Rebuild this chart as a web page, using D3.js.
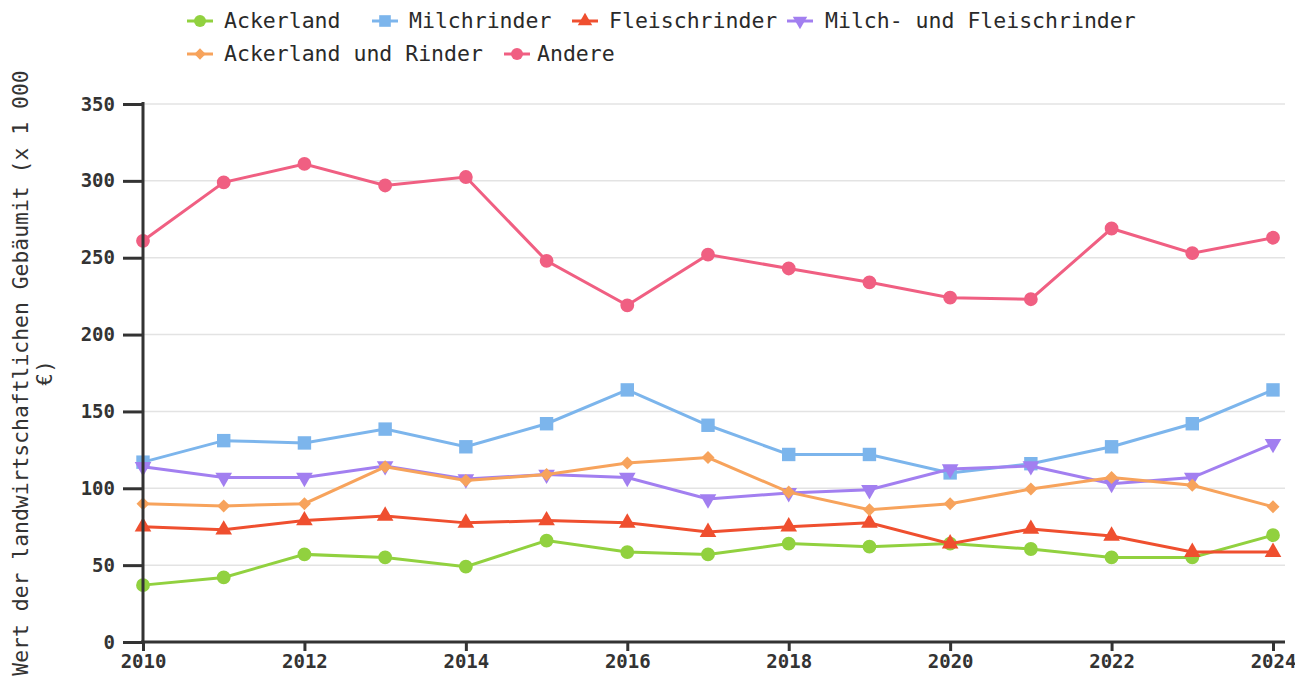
<!DOCTYPE html>
<html>
<head>
<meta charset="utf-8">
<script src="https://cdn.jsdelivr.net/npm/d3@7"></script>
<style>
    body { margin: 0; background: #fff; }
    svg { display: block; font-family: "DejaVu Sans Mono", monospace; }
</style>
</head>
<body>
<svg id="chart" width="1295" height="684"></svg>
<script>
var years = [2010, 2011, 2012, 2013, 2014, 2015, 2016, 2017, 2018, 2019, 2020, 2021, 2022, 2023, 2024];
var xTicks = [2010, 2012, 2014, 2016, 2018, 2020, 2022, 2024];
var yTicks = [0, 50, 100, 150, 200, 250, 300, 350];

var ackerland = [37, 42, 57, 55, 49, 66, 58.5, 57, 64, 62, 64, 60.5, 55, 55, 69.5];
var milchrinder = [117, 131, 129.5, 138.5, 127, 142, 164, 141, 122, 122, 110, 116, 127, 142, 164];
var fleischrinder = [75, 73, 79, 82, 77.5, 79, 77.5, 71.5, 75, 77.5, 64, 73.5, 69, 58.5, 58.5];
var milchFleisch = [114, 107, 107, 114.5, 106, 109, 107, 93, 97, 99, 112.5, 114.5, 103, 107, 129];
var ackerRinder = [90, 88.5, 90, 114, 105, 109, 116.5, 120, 97.5, 86, 90, 99.5, 107, 102, 88];
var andere = [261, 299, 311, 297, 302.5, 248, 219, 252, 243, 234, 224, 223, 269, 253, 263];

var seriesNames = ['Ackerland', 'Milchrinder', 'Fleischrinder', 'Milch- und Fleischrinder', 'Ackerland und Rinder', 'Andere'];
var seriesColors = ['#91d13f', '#7cb5ec', '#ef4f2f', '#a27ff0', '#f7a35c', '#f05f82'];
var seriesShapes = ['circle', 'square', 'up', 'down', 'diamond', 'circle'];
var seriesValues = [ackerland, milchrinder, fleischrinder, milchFleisch, ackerRinder, andere];

var margin = {left: 143, top: 104, right: 10};
var width = 1142, height = 538;

var svg = d3.select('#chart');
var g = svg.append('g').attr('transform', 'translate(' + margin.left + ',' + margin.top + ')');

var x = d3.scaleLinear().domain([2010, 2024]).range([0, 1130]);
var y = d3.scaleLinear().domain([0, 350]).range([height, 0]);

// gridlines
g.append('g').selectAll('line')
    .data(yTicks.slice(1))
    .enter().append('line')
    .attr('x1', 0).attr('x2', width)
    .attr('y1', d => y(d)).attr('y2', d => y(d))
    .attr('stroke', '#e3e3e3').attr('stroke-width', 1.5);

// marker shape -> [path, rotation]
function marker(shape, k) {
    k = k || 1;
    switch (shape) {
    case 'circle': return [d3.symbol().type(d3.symbolCircle).size(150 * k)(), 0];
    case 'square': return [d3.symbol().type(d3.symbolSquare).size(180 * k)(), 0];
    case 'up': return [d3.symbol().type(d3.symbolTriangle).size(120 * k)(), 0];
    case 'down': return [d3.symbol().type(d3.symbolTriangle).size(120 * k)(), 180];
    case 'diamond': return [d3.symbol().type(d3.symbolSquare).size(85 * k)(), 45];
    }
}

var line = d3.line().x((d, i) => x(years[i])).y(d => y(d));

seriesValues.forEach(function (vals, s) {
    var sg = g.append('g');
    var m = marker(seriesShapes[s]);
    sg.append('path')
        .datum(vals)
        .attr('d', line)
        .attr('fill', 'none')
        .attr('stroke', seriesColors[s])
        .attr('stroke-width', 3);
    sg.selectAll('path.pt')
        .data(vals)
        .enter().append('path')
        .attr('class', 'pt')
        .attr('d', m[0])
        .attr('transform', (d, i) => 'translate(' + x(years[i]) + ',' + y(d) + ') rotate(' + m[1] + ')')
        .attr('fill', seriesColors[s]);
});

// axes
var yAxis = g.append('g')
    .call(d3.axisLeft(y).tickValues(yTicks).tickSize(20).tickPadding(8));
var xAxis = g.append('g')
    .attr('transform', 'translate(0,' + height + ')')
    .call(d3.axisBottom(x).tickValues(xTicks).tickFormat(d3.format('d')).tickSize(9).tickPadding(4));

[yAxis, xAxis].forEach(function (a) {
    a.select('.domain').remove();
    a.selectAll('.tick line').attr('stroke', '#333').attr('stroke-width', 3);
    a.selectAll('.tick text')
        .attr('fill', '#333')
        .style('font-size', '19px')
        .style('font-weight', 'bold')
        .style('font-family', '"DejaVu Sans Mono", monospace');
});

g.append('line').attr('x1', 0).attr('x2', 0).attr('y1', -2).attr('y2', height + 2)
    .attr('stroke', '#333').attr('stroke-width', 3);
g.append('line').attr('x1', -2).attr('x2', width).attr('y1', height).attr('y2', height)
    .attr('stroke', '#333').attr('stroke-width', 3);

// y axis title
var title = svg.append('text')
    .attr('transform', 'translate(28,' + (margin.top + height / 2) + ') rotate(-90)')
    .attr('text-anchor', 'middle')
    .attr('fill', '#333')
    .style('font-size', '21.4px');
title.append('tspan').attr('x', 0).attr('dy', 0).text('Wert der landwirtschaftlichen Gebäumit (x 1 000');
title.append('tspan').attr('x', 0).attr('dy', 24).text('€)');

// legend
var legendPos = [[200, 21], [385, 21], [585, 21], [800, 21], [200, 54], [517, 54]];
var legendText = [224, 409, 609, 825, 224, 537];
var legend = svg.append('g');
seriesNames.forEach(function (name, s) {
    var m = marker(seriesShapes[s], 0.75);
    var lg = legend.append('g').attr('transform', 'translate(' + legendPos[s][0] + ',' + legendPos[s][1] + ')');
    lg.append('line').attr('x1', -13).attr('x2', 13)
        .attr('stroke', seriesColors[s]).attr('stroke-width', 3);
    lg.append('path')
        .attr('d', m[0])
        .attr('transform', 'rotate(' + m[1] + ')')
        .attr('fill', seriesColors[s]);
    lg.append('text')
        .attr('x', legendText[s] - legendPos[s][0]).attr('y', 7)
        .attr('fill', '#2a2a2a')
        .style('font-size', '21.5px')
        .text(name);
});
</script>
</body>
</html>
